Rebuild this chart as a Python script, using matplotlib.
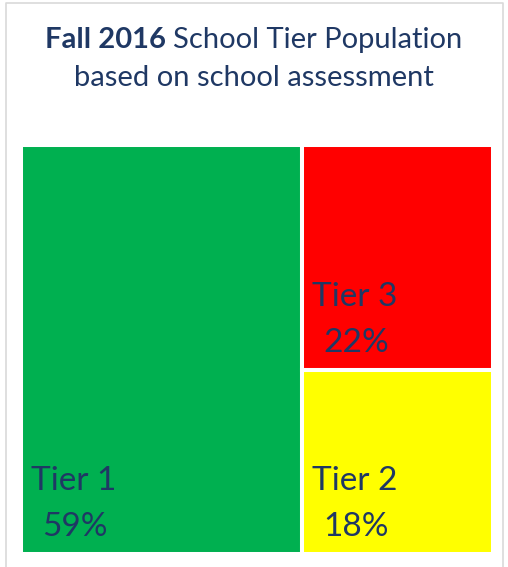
import matplotlib.pyplot as plt
from matplotlib.patches import Rectangle

# data
tiers = ['Tier 1', 'Tier 3', 'Tier 2']
shares = [59, 22, 18]
colors = ['#00B050', '#FF0000', '#FFFF00']

navy = '#1F3864'
font = 'Lato'

W, H = 508, 567
fig = plt.figure(figsize=(W / 100, H / 100), dpi=100)
fig.patch.set_facecolor('white')

# light gray frame (left, top, right)
frame = fig.add_axes([0, 0, 1, 1])
frame.set_xlim(0, W)
frame.set_ylim(H, 0)
frame.axis('off')
frame.plot([6, 6, 503, 503], [H, 3, 3, H], color='#D9D9D9', lw=1.2)

# title: bold part + regular part, centered as a whole
t1 = frame.text(0, 48, 'Fall 2016 ', fontsize=21, fontweight='bold',
                color=navy, family=font, va='baseline', ha='left')
t2 = frame.text(0, 48, 'School Tier Population', fontsize=21,
                color=navy, family=font, va='baseline', ha='left')
frame.text(W / 2, 86, 'based on school assessment', fontsize=21,
           color=navy, family=font, va='baseline', ha='center')
fig.canvas.draw()
r = fig.canvas.get_renderer()
w1 = t1.get_window_extent(r).width
w2 = t2.get_window_extent(r).width
x0 = W / 2 - (w1 + w2) / 2
t1.set_x(x0)
t2.set_x(x0 + w1)

# treemap area (pixels)
left, top, right, bottom = 21, 145, 493, 554
ax = fig.add_axes([left / W, 1 - bottom / H, (right - left) / W, (bottom - top) / H])
ax.set_xlim(0, 1)
ax.set_ylim(0, 1)
ax.axis('off')

total = sum(shares)
w_left = shares[0] / total
right_total = shares[1] + shares[2]
h_low = shares[2] / right_total

rects = [
    (0, 0, w_left, 1),
    (w_left, h_low, 1 - w_left, 1 - h_low),
    (w_left, 0, 1 - w_left, h_low),
]

for (x, y, w, h), name, val, c in zip(rects, tiers, shares, colors):
    ax.add_patch(Rectangle((x, y), w, h, facecolor=c, edgecolor='white', lw=2.9))
    ax.annotate(name, (x, y), xytext=(10 * 0.72, 64 * 0.72), textcoords='offset points',
                fontsize=24, color=navy, family=font, va='baseline', ha='left')
    ax.annotate(f'{val}%', (x, y), xytext=(21 * 0.72, 18 * 0.72), textcoords='offset points',
                fontsize=24, color=navy, family=font, va='baseline', ha='left')

fig.savefig('out.png', dpi=100)
